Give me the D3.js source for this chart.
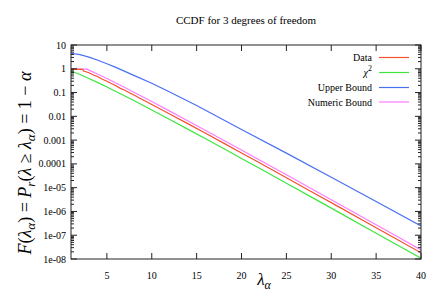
<!DOCTYPE html>
<html><head><meta charset="utf-8">
<script src="https://cdn.jsdelivr.net/npm/d3@7"></script>
<style>body{margin:0;background:#fff}svg{display:block}</style>
</head><body>
<svg id="c" width="436" height="291" font-family="'Liberation Serif','DejaVu Serif',serif"></svg>
<script>
const title = "CCDF for 3 degrees of freedom";
const xTicks = [5,10,15,20,25,30,35,40];
const yTickLabels = ["10","1","0.1","0.01","0.001","0.0001","1e-05","1e-06","1e-07","1e-08"];
const yTickValues = [10,1,0.1,0.01,0.001,1e-4,1e-5,1e-6,1e-7,1e-8];

// Data (red)
const dataX = [1,2.3,2.4,3,3.5,4,4.5,5,5.5,6,6.5,7,7.5,8,9,10,12,14,16,18,20,22,25,28,31,34,37,40];
const dataY = [0.95,0.95,0.80,0.68,0.55,0.46,0.36,0.30,0.24,0.195,0.15,0.125,0.098,0.079,0.050,0.0316,0.01255,0.00494,0.00193,7.48e-4,2.89e-4,1.11e-4,2.62e-5,6.17e-6,1.45e-6,3.37e-7,7.84e-8,1.82e-8];
// chi^2 (green)
const chiX = [1,1.5,2,3,4,5,6,7,8,10,12,14,16,18,20,22,25,28,31,34,37,40];
const chiY = [0.801,0.682,0.572,0.392,0.2615,0.1718,0.1116,0.0719,0.0460,0.01857,0.00738,0.002905,0.001134,4.40e-4,1.697e-4,6.52e-5,1.544e-5,3.63e-6,8.51e-7,1.98e-7,4.61e-8,1.07e-8];
// Upper Bound (blue)
const upX = [1,2,3,4,5,6,8,10,12,15,20,25,30,35,40];
const upY = [4.50,3.93,3.09,2.29,1.63,1.14,0.526,0.248,0.106,0.0286,0.0028,2.83e-4,2.76e-5,2.64e-6,2.45e-7];
// Numeric Bound (magenta)
const numX = [1,2.8,3,4,5,6,7,8,10,12,14,16,18,20,22,25,28,31,34,37,40];
const numY = [0.98,0.96,0.881,0.588,0.387,0.251,0.162,0.1035,0.0418,0.0166,0.00654,0.00255,9.9e-4,3.82e-4,1.47e-4,3.47e-5,8.17e-6,1.91e-6,4.46e-7,1.04e-7,2.4e-8];

const seriesNames = ["Data","χ2","Upper Bound","Numeric Bound"];
const seriesColors = ["#f5502c","#3ee63e","#4a70f2","#ff7cff"];

const FONT = "'Liberation Serif','DejaVu Serif',serif";
const svg = d3.select("#c");
const L=71, R=421, T=45, B=259;
const x = d3.scaleLinear().domain([1,40]).range([L,R]);
const y = d3.scaleLog().domain([1e-8,10]).range([B,T]);

const series = [[dataX,dataY],[chiX,chiY],[upX,upY],[numX,numY]];
svg.append("clipPath").attr("id","cp").append("rect").attr("x",L).attr("y",T).attr("width",R-L).attr("height",B-T);
const line = d3.line().x(d=>x(d[0])).y(d=>y(d[1]));
[2,3,0,1].forEach(i=>{
  const [xs,ys]=series[i];
  svg.append("path").datum(xs.map((v,j)=>[v,ys[j]])).attr("d",line)
    .attr("fill","none").attr("stroke",seriesColors[i]).attr("stroke-width",1.2)
    .attr("clip-path","url(#cp)");
});

const g = svg.append("g").attr("stroke","#222").attr("stroke-width",1);
const minor=[];
for(let e=-8;e<1;e++) for(let m=2;m<=9;m++) minor.push(m*Math.pow(10,e));
minor.forEach(v=>{
  g.append("line").attr("x1",L).attr("x2",L+3).attr("y1",y(v)).attr("y2",y(v));
  g.append("line").attr("x1",R).attr("x2",R-3).attr("y1",y(v)).attr("y2",y(v));
});
yTickValues.forEach(v=>{
  g.append("line").attr("x1",L).attr("x2",L+6).attr("y1",y(v)).attr("y2",y(v));
  g.append("line").attr("x1",R).attr("x2",R-6).attr("y1",y(v)).attr("y2",y(v));
});
xTicks.forEach(v=>{
  g.append("line").attr("x1",x(v)).attr("x2",x(v)).attr("y1",B).attr("y2",B-6);
  g.append("line").attr("x1",x(v)).attr("x2",x(v)).attr("y1",T).attr("y2",T+6);
});
g.append("rect").attr("x",L).attr("y",T).attr("width",R-L).attr("height",B-T).attr("fill","none");

const txt = (sel)=>sel.append("text").attr("font-family",FONT).attr("fill","#000");
yTickValues.forEach((v,i)=>{
  txt(svg).attr("x",L-5).attr("y",y(v)+3.5).attr("text-anchor","end").attr("font-size",10).text(yTickLabels[i]);
});
xTicks.forEach(v=>{
  txt(svg).attr("x",x(v)).attr("y",B+20).attr("text-anchor","middle").attr("font-size",10).text(v);
});

txt(svg).attr("x",246).attr("y",24).attr("text-anchor","middle").attr("font-size",11).text(title);

const xl = txt(svg).attr("x",264).attr("y",285).attr("text-anchor","middle").attr("font-size",17);
xl.append("tspan").attr("font-style","italic").text("λ");
xl.append("tspan").attr("font-style","italic").attr("font-size",12).attr("dy",4).text("α");

const yl = txt(svg).attr("transform","translate(31,163) rotate(-90)").attr("text-anchor","middle").attr("font-size",18);
const parts = [
  ["F",1,0,0],["(",0,0,0],["λ",1,0,0],["α",1,1,0],[") = ",0,0,1],["P",1,0,0],["r",1,1,0],["(",0,0,1],["λ",1,0,0],[" ≥ ",0,0,0],["λ",1,0,0],["α",1,1,0],[") = 1 − ",0,0,1],["α",1,0,0]
];
let shift=0;
parts.forEach(p=>{
  const t=yl.append("tspan").text(p[0]);
  if(p[1]) t.attr("font-style","italic");
  if(p[2]){ t.attr("font-size",13).attr("dy",4); shift=4; }
  else if(p[3]){ t.attr("dy",-shift); shift=0; }
});

const legY=[57.5,72.5,87.5,102];
seriesNames.forEach((n,i)=>{
  const t=txt(svg).attr("x",372).attr("y",legY[i]+3.5).attr("text-anchor","end").attr("font-size",10);
  if(i===1){
    t.append("tspan").attr("font-style","italic").text("χ");
    t.append("tspan").attr("font-size",8).attr("dy",-5).text("2");
  } else t.text(n);
  svg.append("line").attr("x1",379).attr("x2",409).attr("y1",legY[i]).attr("y2",legY[i]).attr("stroke",seriesColors[i]).attr("stroke-width",1.2);
});
</script>
</body></html>
